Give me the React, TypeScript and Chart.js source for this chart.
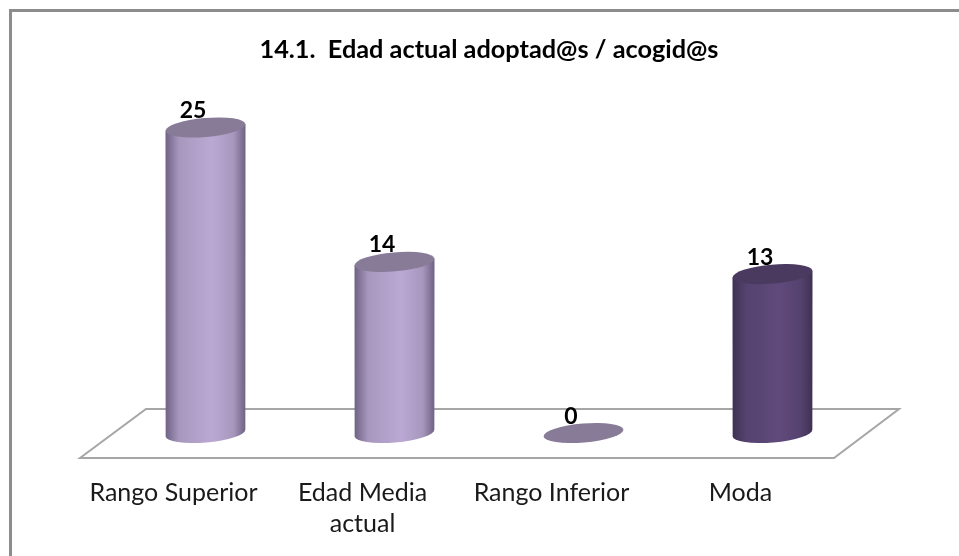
import React, { useEffect, useRef } from "react";
import { Chart, registerables } from "chart.js";

Chart.register(...registerables);

const categories: (string | string[])[] = ["Rango Superior", ["Edad Media", "actual"], "Rango Inferior", "Moda"];
const values = [25, 14, 0, 13];
const sideCenter = ["#bba9d4", "#bba9d4", "#bba9d4", "#604a7c"];
const sideMid = ["#a797bd", "#a797bd", "#a797bd", "#55426f"];
const sideEdge = ["#6f6284", "#6f6284", "#6f6284", "#3f3152"];
const topColor = ["#877b98", "#877b98", "#877b98", "#4a3a60"];
const titleText = "14.1.  Edad actual adoptad@s / acogid@s";
const FONT = "Lato, Carlito, sans-serif";

const ellipseRx = 40;
const ellipseRy = 9.5;
const tilt = -0.085;

const framePlugin = {
  id: "frame",
  beforeDraw(chart: any) {
    const { ctx } = chart;
    ctx.save();
    ctx.fillStyle = "#ffffff";
    ctx.fillRect(0, 0, chart.width, chart.height);
    ctx.strokeStyle = "#8c8c8c";
    ctx.lineWidth = 3;
    ctx.beginPath();
    ctx.moveTo(10.5, chart.height + 5);
    ctx.lineTo(10.5, 10.5);
    ctx.lineTo(chart.width + 5, 10.5);
    ctx.stroke();
    ctx.restore();
  },
};

const floorPlugin = {
  id: "floor",
  beforeDatasetsDraw(chart: any) {
    const { ctx, chartArea } = chart;
    const b = chart.scales.y.getPixelForValue(0);
    const { left, right } = chartArea;
    ctx.save();
    ctx.strokeStyle = "#a6a6a6";
    ctx.lineWidth = 2;
    ctx.beginPath();
    ctx.moveTo(left - 31, b + 25);
    ctx.lineTo(left + 35, b - 24);
    ctx.lineTo(right + 32, b - 24);
    ctx.lineTo(right - 33, b + 25);
    ctx.closePath();
    ctx.stroke();
    ctx.restore();
  },
};

const cylinderPlugin = {
  id: "cylinders",
  afterDatasetsDraw(chart: any) {
    const { ctx } = chart;
    const meta = chart.getDatasetMeta(0);
    meta.data.forEach((el: any, i: number) => {
      const cx = el.x;
      const rx = el.width / 2;
      const top = el.y;
      const base = el.base;
      const lift = rx * Math.sin(-tilt);
      ctx.save();
      if (values[i] > 0) {
        const g = ctx.createLinearGradient(cx - rx, 0, cx + rx, 0);
        g.addColorStop(0, sideEdge[i]);
        g.addColorStop(0.17, sideMid[i]);
        g.addColorStop(0.58, sideCenter[i]);
        g.addColorStop(0.85, sideMid[i]);
        g.addColorStop(1, sideEdge[i]);
        ctx.fillStyle = g;
        ctx.beginPath();
        ctx.ellipse(cx, base, rx, ellipseRy, tilt, 0, Math.PI);
        ctx.lineTo(cx - rx, top + lift);
        ctx.lineTo(cx + rx, top - lift);
        ctx.closePath();
        ctx.fill();
      }
      ctx.fillStyle = topColor[i];
      ctx.beginPath();
      ctx.ellipse(cx, top, rx, ellipseRy, tilt, 0, Math.PI * 2);
      ctx.fill();
      ctx.fillStyle = "#000000";
      ctx.font = `bold 23px ${FONT}`;
      ctx.textAlign = "center";
      ctx.textBaseline = "alphabetic";
      ctx.fillText(String(values[i]), cx - 12.5, top - 9.5);
      ctx.restore();
    });
  },
};

export default function App() {
  const ref = useRef<HTMLCanvasElement>(null);
  useEffect(() => {
    document.body.style.margin = "0";
    const chart = new Chart(ref.current!, {
      type: "bar",
      data: {
        labels: categories as any,
        datasets: [{ data: values, backgroundColor: "rgba(0,0,0,0)", barThickness: ellipseRx * 2 }],
      },
      options: {
        animation: false,
        responsive: false,
        layout: { padding: { left: 111, right: 92, top: 0, bottom: 0 } },
        plugins: {
          legend: { display: false },
          tooltip: { enabled: false },
          title: {
            display: true,
            text: titleText,
            color: "#000000",
            font: { family: FONT, size: 25.3, weight: "bold" },
            padding: { top: 35, bottom: 1 },
          },
        },
        scales: {
          x: {
            grid: { display: false },
            border: { display: false },
            afterFit(axis: any) {
              axis.height = 123;
            },
            ticks: {
              color: "#1a1a1a",
              font: { family: FONT, size: 25, lineHeight: 1.24 },
              autoSkip: false,
              maxRotation: 0,
              padding: 36,
              labelOffset: -32,
            },
          },
          y: { display: false, min: 0, max: 30 },
        },
      },
      plugins: [framePlugin, floorPlugin, cylinderPlugin],
    } as any);
    return () => chart.destroy();
  }, []);
  return <canvas ref={ref} width={959} height={556} style={{ display: "block" }} />;
}
